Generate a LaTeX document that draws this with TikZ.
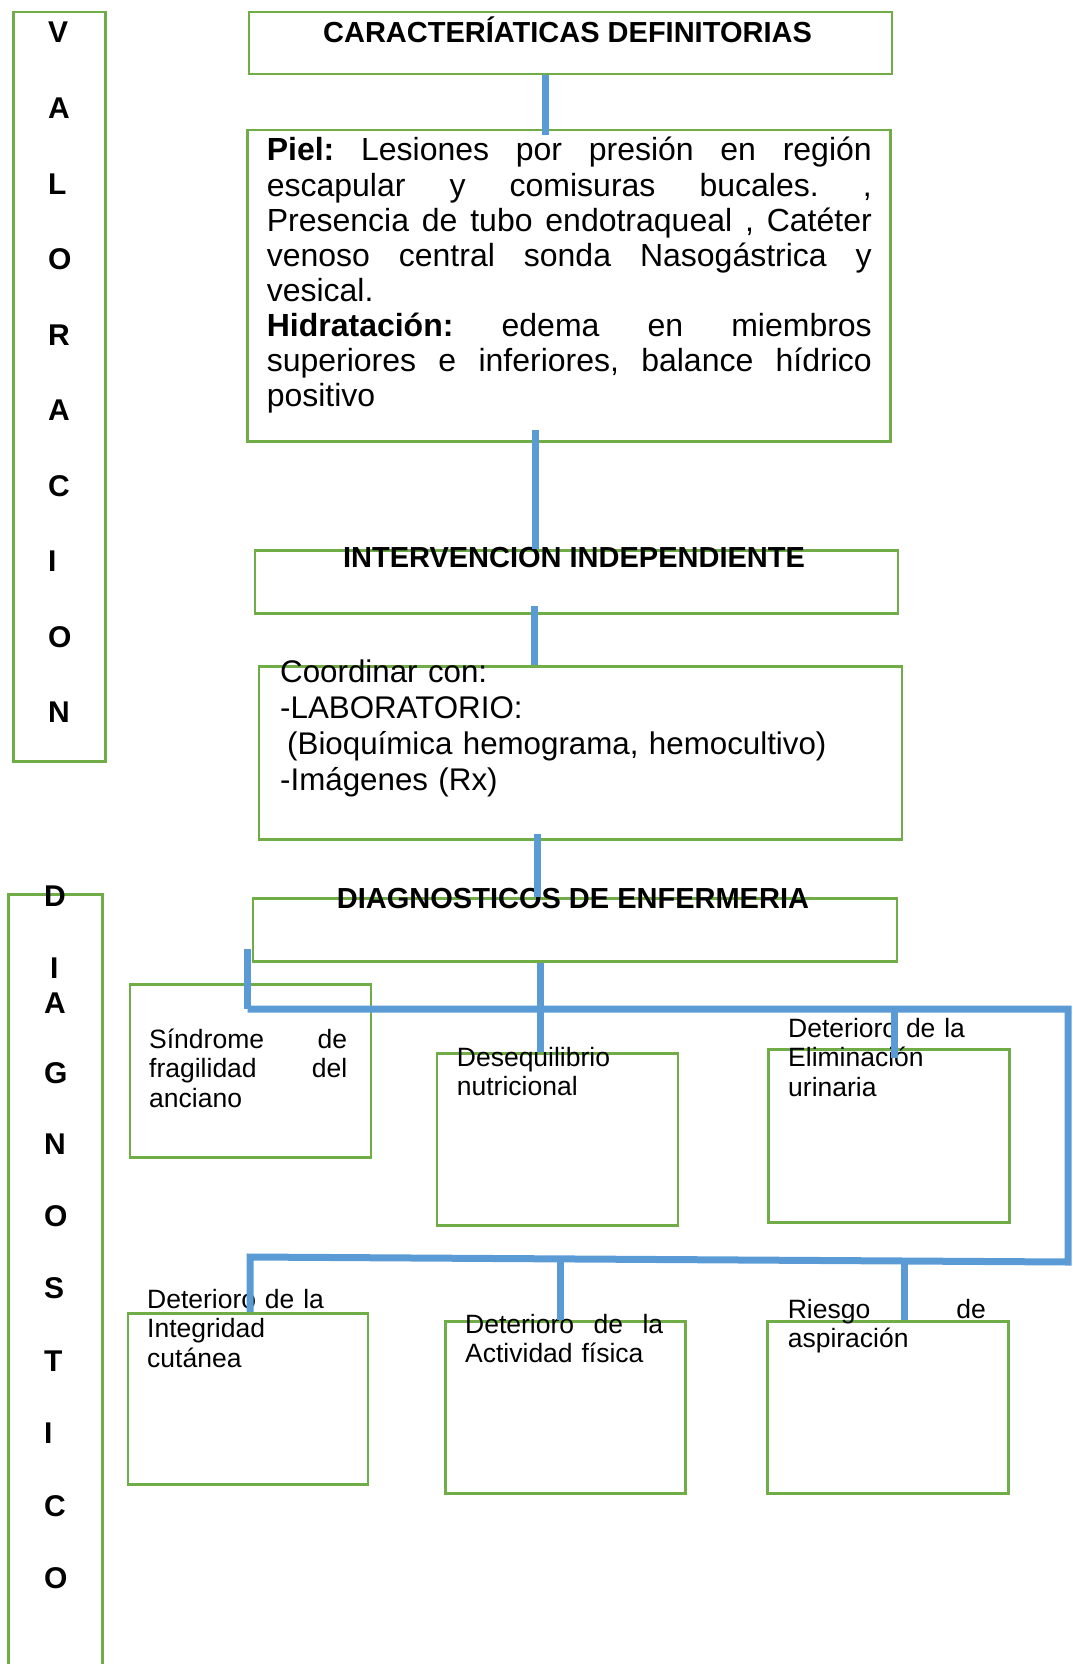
\documentclass[tikz,border=0pt]{standalone}
\usepackage{fontspec}
\setmainfont{Liberation Sans}
\usetikzlibrary{positioning,calc}
\definecolor{verde}{HTML}{70AD47}
\definecolor{azul}{HTML}{5B9BD5}
\newcommand{\jline}[2]{\makebox[#1][s]{\frenchspacing\spaceskip=0pt\xspaceskip=0pt\relax #2}}

\begin{document}
\begin{tikzpicture}[x=1pt, y=-1pt,
            caja/.style={draw=verde, line width=2.5pt, anchor=north west, inner sep=0pt},
            enlace/.style={draw=azul, line width=7pt, line join=miter},
            letra/.style={anchor=base west, inner sep=0pt, font=\fontsize{30}{36}\selectfont\bfseries},
            titulo/.style={anchor=base, inner sep=0pt, font=\fontsize{29}{34}\selectfont\bfseries},
            texto/.style={anchor=base west, inner sep=0pt, align=left},
            chico/.style={texto, text width=198pt, font=\fontsize{26.5}{29.5}\selectfont}]
        \useasboundingbox (0,0) rectangle (1072,1664);

        % columnas de la izquierda
        \node[caja, minimum width=92pt, minimum height=749pt] (valor) at (12,11) {};
        \foreach \l [count=\i from 0] in {V,A,L,O,R,A,C,I,O,N}
            \node[letra] (v\i) at (48,43+75.5*\i) {\l};
        \node[caja, minimum width=94pt, minimum height=780pt] (diagn) at (7,893) {};
        \foreach \l/\x/\y [count=\i] in {D/44/906,I/50/978,A/44/1013,G/44/1083,N/44/1154,O/44/1226,S/44/1298,T/44/1371,I/44/1443,C/44/1516,O/44/1588}
            \node[letra] (d\i) at (\x,\y) {\l};

        % valoracion
        \node[caja, minimum width=643pt, minimum height=62pt] (caract) at (247.5,11) {};
        \node[titulo] (caracttxt) at (567.5,43) {CARACTERÍATICAS DEFINITORIAS};
        \node[caja, minimum width=643pt, minimum height=311pt] (piel) at (246,129) {};
        \node[texto, text width=605pt, font=\fontsize{32}{35.1}\selectfont] (pieltxt) at (266.6,161) {%
            \jline{605pt}{\textbf{Piel:} Lesiones por presión en región}\\
            \jline{605pt}{escapular y comisuras bucales. ,}\\
            \jline{605pt}{Presencia de tubo endotraqueal , Catéter}\\
            \jline{605pt}{venoso central sonda Nasogástrica y}\\
            vesical.\\
            \jline{605pt}{\textbf{Hidratación:} edema en miembros}\\
            \jline{605pt}{superiores e inferiores, balance hídrico}\\
            positivo};
        \node[caja, minimum width=643pt, minimum height=63pt] (interv) at (253.6,549) {};
        \node[titulo] (intervtxt) at (574,567) {INTERVENCION INDEPENDIENTE};
        \node[caja, minimum width=643pt, minimum height=173pt] (coord) at (257.7,665) {};
        \node[texto, text width=600pt, font=\fontsize{31.3}{36.3}\selectfont] (coordtxt) at (280,682) {%
            Coordinar con:\\
            -LABORATORIO:\\
            \hspace*{7pt}(Bioquímica hemograma, hemocultivo)\\
            -Imágenes (Rx)};

        % diagnosticos
        \node[caja, minimum width=644pt, minimum height=63pt] (diag) at (251.6,897) {};
        \node[titulo] (diagtxt) at (573,908) {DIAGNOSTICOS DE ENFERMERIA};
        \node[caja, minimum width=241pt, minimum height=173pt] (sindr) at (128.5,983) {};
        \node[chico] (sindrtxt) at (149,1048) {\jline{198pt}{Síndrome de}\\ \jline{198pt}{fragilidad del}\\ anciano};
        \node[caja, minimum width=241pt, minimum height=172pt] (desq) at (435.5,1052) {};
        \node[chico] (desqtxt) at (456.7,1066) {Desequilibrio\\ nutricional};
        \node[caja, minimum width=241pt, minimum height=173pt] (elim) at (767,1048) {};
        \node[chico] (elimtxt) at (788,1037) {Deterioro de la\\ Eliminación\\ urinaria};
        \node[caja, minimum width=240pt, minimum height=171pt] (integ) at (126.5,1312) {};
        \node[chico] (integtxt) at (147,1308) {Deterioro de la\\ Integridad\\ cutánea};
        \node[caja, minimum width=240pt, minimum height=172pt] (activ) at (444.4,1320) {};
        \node[chico] (activtxt) at (465,1333) {\jline{198pt}{Deterioro de la}\\ Actividad física};
        \node[caja, minimum width=240.6pt, minimum height=172pt] (riesgo) at (766.4,1320) {};
        \node[chico] (riesgotxt) at (787.6,1318) {\jline{198pt}{Riesgo de}\\ aspiración};

        % conectores
        \coordinate (c1) at (545.6,135);
        \coordinate (c2) at (535,430);
        \coordinate (c3) at (534.6,606);
        \coordinate (c4) at (537.7,834);
        \draw[enlace] (caract.south -| c1) -- (c1);
        \draw[enlace] (c2) -- (interv.north -| c2);
        \draw[enlace] (c3) -- (coord.north -| c3);
        \draw[enlace] (c4) -- (diag.north -| c4);

        \coordinate (t1) at (247.5,949);
        \coordinate (busa) at (247.5,1009);
        \coordinate (busb) at (1068,1009);
        \coordinate (busc) at (1068,1262);
        \coordinate (busd) at (250,1257);
        \coordinate (m1) at (540,958);
        \coordinate (e1) at (894,1058);
        \coordinate (a1) at (560.6,1258);
        \coordinate (r1) at (904.5,1260);
        \draw[enlace] (t1) -- (busa);
        \draw[enlace] (busa) -- (busb) -- (busc) -- (busd) -- (integ.north -| busd);
        \draw[enlace] (diag.south -| m1) -- (desq.north -| m1);
        \draw[enlace] (busa -| e1) -- (e1);
        \draw[enlace] (a1) -- (activ.north -| a1);
        \draw[enlace] (r1) -- (riesgo.north -| r1);
\end{tikzpicture}
\end{document}
